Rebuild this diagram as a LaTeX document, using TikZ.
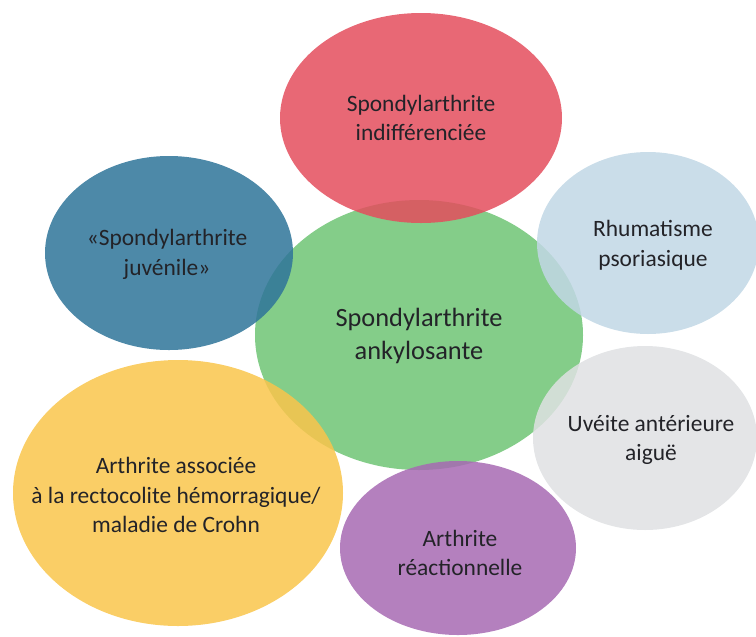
\documentclass[tikz,border=0pt]{standalone}
\usepackage{fontspec}
\setmainfont{Carlito}
\definecolor{vert}{RGB}{110,196,116}
\definecolor{rouge}{RGB}{228,77,93}
\definecolor{bleu}{RGB}{46,116,153}
\definecolor{bleuclair}{RGB}{193,215,229}
\definecolor{gris}{RGB}{223,225,227}
\definecolor{jaune}{RGB}{249,197,75}
\definecolor{violet}{RGB}{167,106,179}
\definecolor{encre}{RGB}{35,35,40}
\tikzset{
  bulle/.style={fill opacity=0.85},
  texte/.style={align=center, text=encre, font=\fontsize{20}{25.5}\selectfont}
}
\begin{document}
\begin{tikzpicture}[x=0.03cm,y=-0.03cm]
            \clip (0,0) rectangle (756,636);
            \fill [bulle, vert] (419,335) ellipse (164 and 135);
            \fill [bulle, rouge] (421,118) ellipse (141 and 105);
            \fill [bulle, bleu] (169,253) ellipse (124 and 97);
            \fill [bulle, bleuclair] (648,243) ellipse (111 and 91);
            \fill [bulle, gris] (645,438) ellipse (112 and 92);
            \fill [bulle, jaune] (178,493) ellipse (165 and 133);
            \fill [bulle, violet] (458,548) ellipse (118 and 87);
            \node [texte, font=\fontsize{22.5}{27.5}\selectfont] (sa) at (419,336) {Spondylarthrite\\ankylosante};
            \node [texte] (indiff) at (421,118) {Spondylarthrite\\indifférenciée};
            \node [texte] (juv) at (167,254) {«Spondylarthrite\\juvénile»};
            \node [texte] (rhum) at (653,245) {Rhumatisme\\psoriasique};
            \node [texte] (uveite) at (651,440) {Uvéite antérieure\\aiguë};
            \node [texte] (mici) at (176,495) {Arthrite associée\\à la rectocolite hémorragique/\\maladie de Crohn};
            \node [texte] (reac) at (460,553) {Arthrite\\réactionnelle};
        \end{tikzpicture}
\end{document}
